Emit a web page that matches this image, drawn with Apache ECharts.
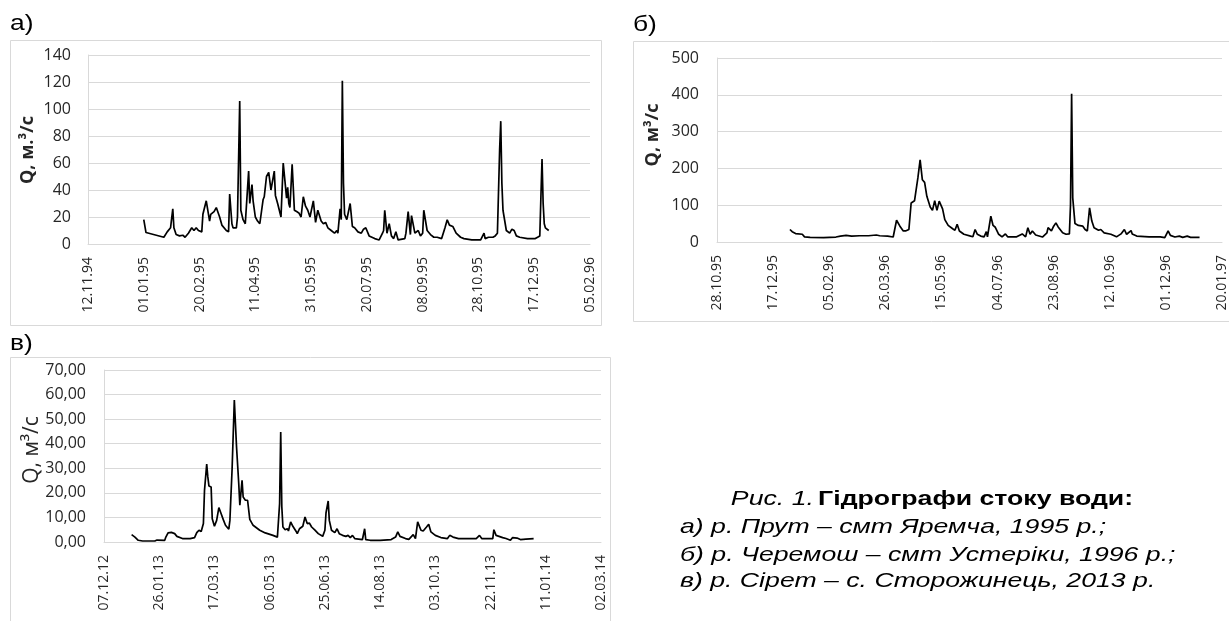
<!DOCTYPE html>
<html><head><meta charset="utf-8">
<script src="https://cdn.jsdelivr.net/npm/echarts@6/dist/echarts.min.js"></script>
<style>html,body{margin:0;padding:0;background:#fff}#c{width:1229px;height:621px}</style>
</head><body><div id="c"></div>
<script>
// Panel а: р. Прут – смт Яремча, 1995 (day of year, Q м³/с)
const prutDay = [1,3,19,22,25,27,28,30,33,36,38,41,44,46,48,50,53,54,55,57,60,61,64,65,66,69,71,75,77,78,80,81,84,85,87,88,90,92,95,96,98,99,101,103,105,108,109,111,113,114,115,118,119,121,124,126,129,130,131,132,134,136,138,140,142,144,146,148,150,153,155,157,160,162,164,166,169,172,174,175,177,178,179,180,181,183,186,188,190,193,196,198,200,203,208,212,215,216,217,219,221,223,225,227,229,235,236,238,240,241,244,247,249,251,252,255,258,261,264,268,271,273,275,278,281,285,288,295,303,306,307,310,314,316,318,320,321,322,323,324,326,329,331,333,335,338,345,352,354,356,357,358,359,360,361,364];
const prutQ = [18,8.5,5,9,12,26,12,7,6,6.5,5,8,12,10,12,10,9,22,23,32,17,22,24,25,27,20,14,10,9,37,15,12,12,20,106,25,18,15,54,30,44,32,20,17,15,33,35,50,53,52,40,54,36,30,20,60,34,42,30,27,59,25,24,23,20,35,28,25,20,32,16,25,17,15,16,12,10,8,10,8,26,18,121,45,22,18,30,13,12,9,8,11,12,6,4,3,8,10,25,8,15,6,4,9,3,4,8,24,7,21,8,10,6,8,25,10,7,5,5,4,12,18,14,13,8,5,4,3,3,8,4,5,5,6,8,70,91,45,25,20,10,8,11,10,6,5,4,4,5,6,35,63,30,15,12,10];

// Panel б: р. Черемош – смт Устеріки, 1996
const cheremoshDay = [1,3,6,12,14,19,31,42,46,51,56,63,71,78,81,88,93,96,99,102,104,107,109,112,113,115,117,119,121,123,126,128,130,132,134,137,139,142,146,148,150,152,156,162,164,166,168,171,174,176,177,180,182,184,187,190,193,195,203,208,211,213,215,217,220,226,230,231,234,236,238,240,244,247,250,251,252,253,255,258,262,264,266,268,270,272,276,278,281,287,292,296,297,299,301,305,306,310,321,331,335,338,340,344,348,351,355,358,366];
const cheremoshQ = [34,28,23,21,14,12.6,11.7,13.5,16,18,16,17,17,19,17,16,13.5,59,43,30,30,34,106,112,115,174,223,169,162,124,95,86,112,86,111,90,61,45,36,32,48,30,21,16,14.4,34,21,16,14,28,14,70,45,40,21,14,22,14,14,22,14,39,21,30,19,13.5,25,39,30,43,52,41,25,21,22,100,403,120,50,45,43,34,30,93,57,39,32,34,25,21,14,22,25,34,21,31,22,16,14,14,12,30,18,13.5,16,12.6,16,12.6,12.6];

// Panel в: р. Сірет – с. Сторожинець, 2013
const siretDay = [1,2,4,5,7,11,22,24,25,31,32,34,35,37,40,42,47,54,58,60,62,64,66,67,69,70,71,73,74,76,78,80,82,84,86,89,90,92,93,94,96,98,99,101,102,104,106,108,111,117,122,129,133,134,135,136,137,138,140,142,143,145,147,150,151,153,156,158,160,162,164,167,170,174,176,177,179,180,182,185,187,189,192,193,195,197,199,201,203,210,212,213,217,226,236,240,242,244,249,252,256,258,260,263,265,268,270,272,276,281,287,289,292,297,313,316,318,328,329,331,337,340,344,346,350,353,358,365];
const siretQ = [3,2.3,2,1.4,0.7,0.4,0.4,0.8,0.4,0.7,2,3.7,3.1,3.9,3.4,2.3,1.4,1.4,1.8,3.8,4.8,4.3,7.5,21,31.7,26.5,22.8,22.4,9.5,6.4,8.8,14,11.6,9.1,6.8,5.2,8.8,29.9,30.3,57.8,38.7,23.8,15,25.1,18.3,17,17,9.2,6.8,4.8,3.7,2.7,2,1.4,15.6,44.8,14.3,6.1,5,5.4,4.5,8.2,6.4,4.3,3.4,5.4,6.4,10.2,7.5,7.7,6.1,4.8,3.4,2.3,4.8,11.8,16.7,8.8,4.8,3.8,5.4,3.4,2.7,3.4,2.3,2.7,1.8,2.7,1.4,1,5.4,1,0.7,0.7,1,2,4.1,2.3,1.4,1.1,3,1.4,8.2,4.8,4.5,6.1,7.2,4.1,2.7,1.8,1.4,2.7,2,1.4,1.4,2.7,1.4,1.4,5,2.7,1.8,1.4,0.7,1.8,1.6,1,1.2,1.4];

// Axis origins (first tick date) and data years
const axisStartA = [1994, 11, 12], yearA = 1995;
const axisStartB = [1995, 10, 28], yearB = 1996;
const axisStartC = [2012, 12, 7],  yearC = 2013;
const tickStepDays = 50, axisSpanDays = 450;

const DAY = 86400000;
const utc = a => Date.UTC(a[0], a[1] - 1, a[2]);
function toSeries(days, qs, year, start) {
  const o = utc(start);
  return days.map((d, i) => [(Date.UTC(year, 0, d) - o) / DAY, qs[i]]);
}
function dateFmt(start) {
  const o = utc(start);
  return v => {
    const d = new Date(o + v * DAY);
    const p = n => String(n).padStart(2, '0');
    return p(d.getUTCDate()) + '.' + p(d.getUTCMonth() + 1) + '.' + p(d.getUTCFullYear() % 100);
  };
}

const FONT = '"Open Sans", sans-serif';
const LBL = '#262626';
const GRIDC = '#d9d9d9';
const SX = 1.27; // horizontal stretch of the scanned figure

function xAxis(gi, start) {
  return {
    type: 'value', gridIndex: gi, min: 0, max: axisSpanDays, interval: tickStepDays,
    axisLine: { show: true, lineStyle: { color: GRIDC, width: 1 } },
    axisTick: { show: false }, splitLine: { show: false },
    axisLabel: { rotate: 90, margin: 13, fontSize: 14, fontFamily: FONT, color: LBL,
      formatter: dateFmt(start), showMinLabel: true, showMaxLabel: true }
  };
}
function yAxis(gi, max, interval, fmt, margin) {
  return {
    type: 'value', gridIndex: gi, min: 0, max: max, interval: interval,
    axisLine: { show: true, lineStyle: { color: GRIDC, width: 1 } },
    axisTick: { show: false },
    splitLine: { show: true, lineStyle: { color: GRIDC, width: 1 } },
    axisLabel: { fontSize: 16, fontFamily: FONT, color: LBL, margin: margin, formatter: fmt }
  };
}
function line(gi, data) {
  return { type: 'line', xAxisIndex: gi, yAxisIndex: gi, data: data, showSymbol: false,
    symbol: 'none', lineStyle: { color: '#000', width: 1.7 }, silent: true, z: 5 };
}
const frame = (x, y, w, h) => ({ type: 'rect', shape: { x: x, y: y, width: w, height: h },
  style: { fill: 'none', stroke: GRIDC, lineWidth: 1 }, silent: true });
const letter = (t, x, y) => ({ type: 'text', x: x, y: y, scaleX: 1.2,
  style: { text: t, font: '22px "Liberation Sans", Arial', fill: '#000', verticalAlign: 'middle' } });
const yTitle = (t, x, y, font) => ({ type: 'text', x: x, y: y, rotation: Math.PI / 2,
  style: { text: t, font: font, fill: LBL, align: 'center', verticalAlign: 'middle' } });
const capLine = (t, y) => ({ type: 'text', x: 680, y: y, scaleX: SX,
  style: { text: t, font: 'italic 21px "Liberation Sans"', fill: '#000', verticalAlign: 'middle' } });

const chart = echarts.init(document.getElementById('c'), null, { renderer: 'canvas' });
chart.setOption({
  animation: false,
  backgroundColor: '#fff',
  grid: [
    { left: 88, top: 55, width: 502, height: 189 },
    { left: 717, top: 58, width: 506, height: 184 },
    { left: 104, top: 370, width: 497, height: 172 }
  ],
  xAxis: [xAxis(0, axisStartA), xAxis(1, axisStartB), xAxis(2, axisStartC)],
  yAxis: [
    yAxis(0, 140, 20, v => String(v), 17),
    yAxis(1, 500, 100, v => String(v), 18),
    yAxis(2, 70, 10, v => v.toFixed(2).replace('.', ','), 18)
  ],
  series: [
    line(0, toSeries(prutDay, prutQ, yearA, axisStartA)),
    line(1, toSeries(cheremoshDay, cheremoshQ, yearB, axisStartB)),
    line(2, toSeries(siretDay, siretQ, yearC, axisStartC))
  ],
  graphic: [
    frame(10.5, 40.5, 591, 285),
    frame(633.5, 41.5, 600, 280),
    frame(10.5, 357.5, 600, 270),
    letter('а)', 10, 24),
    letter('б)', 633, 25),
    letter('в)', 10, 344),
    yTitle('Q, м.³/с', 28, 150, 'bold 18px "Open Sans"'),
    yTitle('Q, м³/с', 653, 135, 'bold 18px "Open Sans"'),
    yTitle('Q, м³/с', 32, 450, '21px "Open Sans"'),
    { type: 'text', x: 932, y: 499, scaleX: SX, style: { text: '{i|Рис. 1.} {b|Гідрографи стоку води:}', align: 'center', verticalAlign: 'middle',
        rich: { i: { font: 'italic 21px "Liberation Sans"', fill: '#000' }, b: { font: 'bold 21px "Liberation Sans"', fill: '#000' } } } },
    capLine('а) р. Прут – смт Яремча, 1995 р.;', 527),
    capLine('б) р. Черемош – смт Устеріки, 1996 р.;', 555),
    capLine('в) р. Сірет – с. Сторожинець, 2013 р.', 581)
  ]
});
</script>
</body></html>
